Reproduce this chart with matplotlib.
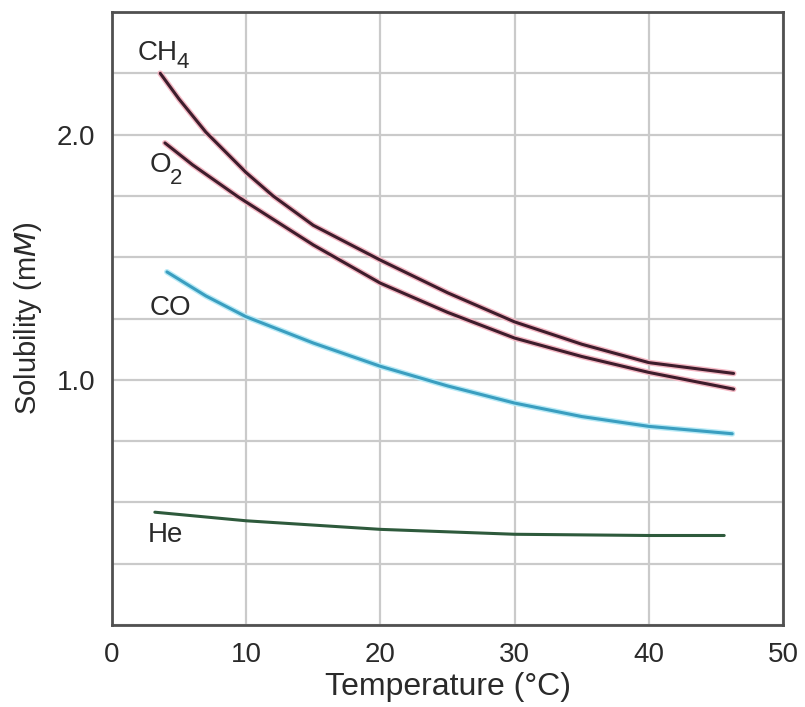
import numpy as np
import matplotlib.pyplot as plt
from matplotlib.ticker import MultipleLocator

plt.rcParams['font.family'] = ['Liberation Sans', 'DejaVu Sans']
plt.rcParams['mathtext.default'] = 'regular'

# solubility (mM), temperature in degC
ch4_t = [3.6, 5, 7, 10, 12, 15, 20, 25, 30, 35, 40, 46.3]
ch4_s = [2.25, 2.145, 2.01, 1.845, 1.75, 1.63, 1.488, 1.355, 1.236, 1.145, 1.07, 1.026]

o2_t = [3.95, 6, 9.3, 10, 15, 20, 25, 30, 35, 40, 46.3]
o2_s = [1.966, 1.877, 1.75, 1.725, 1.55, 1.394, 1.275, 1.17, 1.095, 1.03, 0.962]

co_t = [4.1, 7, 10, 15, 20, 25, 30, 35, 40, 46.2]
co_s = [1.44, 1.342, 1.257, 1.15, 1.055, 0.975, 0.905, 0.85, 0.81, 0.78]

he_t = [3.2, 10, 20, 30, 40, 45.6]
he_s = [0.46, 0.425, 0.39, 0.37, 0.365, 0.365]

fig = plt.figure(figsize=(8.05, 7.07), dpi=100)
ax = fig.add_axes([0.139, 0.116, 0.834, 0.867])

ax.plot(ch4_t, ch4_s, color='#f4b8c4', lw=4.2, solid_capstyle='round', zorder=3)
ax.plot(ch4_t, ch4_s, color='#3e1d2c', lw=2.2, solid_capstyle='round', zorder=4)
ax.plot(o2_t, o2_s, color='#f4b8c4', lw=4.2, solid_capstyle='round', zorder=3)
ax.plot(o2_t, o2_s, color='#3e1d2c', lw=2.2, solid_capstyle='round', zorder=4)
ax.plot(co_t, co_s, color='#b8eaf6', lw=4.2, solid_capstyle='round', zorder=3)
ax.plot(co_t, co_s, color='#3a9ec0', lw=2.2, solid_capstyle='round', zorder=4)
ax.plot(he_t, he_s, color='#2e5a3c', lw=2.2, solid_capstyle='round', zorder=4)

fs = 20
tc = '#2a2a2a'
# curve names, subscripts drawn as separate smaller text
ax.text(1.94, 2.303, 'CH', fontsize=fs, color=tc, ha='left', va='baseline')
ax.text(4.8, 2.27, '4', fontsize=16, color=tc, ha='left', va='baseline')
ax.text(2.8, 1.847, 'O', fontsize=fs, color=tc, ha='left', va='baseline')
ax.text(4.35, 1.80, '2', fontsize=16, color=tc, ha='left', va='baseline')
ax.text(2.83, 1.264, 'CO', fontsize=fs, color=tc, ha='left', va='baseline')
ax.text(2.68, 0.338, 'He', fontsize=fs, color=tc, ha='left', va='baseline')

ax.set_xlim(0, 50)
ax.set_ylim(0, 2.5)
ax.xaxis.set_major_locator(MultipleLocator(10))
ax.set_yticks([1.0, 2.0])
ax.set_yticklabels(['1.0', '2.0'])
ax.yaxis.set_minor_locator(MultipleLocator(0.25))
ax.grid(True, which='both', color='#cacaca', lw=1.6)
ax.set_axisbelow(True)
ax.tick_params(which='both', length=0, labelsize=fs, labelcolor=tc)
ax.tick_params(axis='x', pad=12)
ax.tick_params(axis='y', pad=12)
for s in ax.spines.values():
    s.set_color('#505050')
    s.set_linewidth(2)

ax.set_xlabel('Temperature (°C)', fontsize=23, color=tc, labelpad=3)
ax.set_ylabel('Solubility (m$\\mathit{M}$)', fontsize=21, color=tc, labelpad=9)

fig.savefig('out.png', dpi=100)
